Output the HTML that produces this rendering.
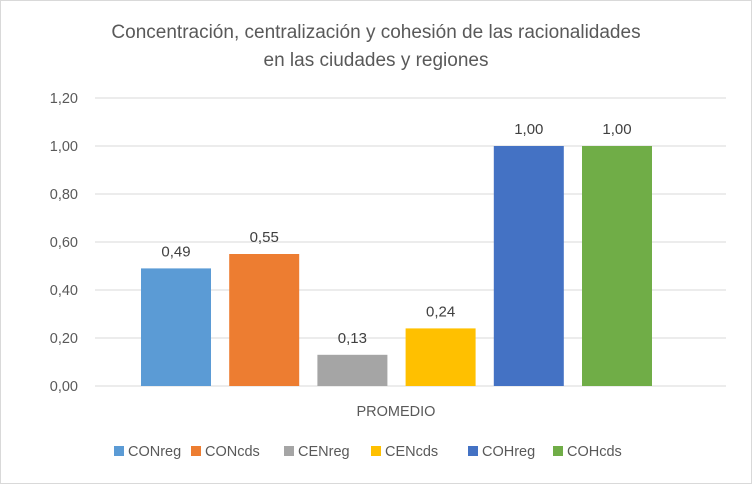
<!DOCTYPE html>
<html><head><meta charset="utf-8"><style>
body{margin:0;background:#fff;}
svg{display:block;font-family:"Liberation Sans",sans-serif;}
</style></head><body>
<svg id="chart" width="752" height="484" viewBox="0 0 752 484">
<rect x="0.5" y="0.5" width="751" height="483" fill="#fff" stroke="#d9d9d9"/>
<text x="376" y="38" text-anchor="middle" font-size="19" fill="#595959">Concentración, centralización y cohesión de las racionalidades</text>
<text x="376" y="66" text-anchor="middle" font-size="19" fill="#595959">en las ciudades y regiones</text>
<g id="grid"></g><g id="bars"></g><g id="legend"></g>
<text x="396" y="416" text-anchor="middle" font-size="14.5" fill="#595959">PROMEDIO</text>
</svg>
<script>
const series=["CONreg","CONcds","CENreg","CENcds","COHreg","COHcds"];
const values=[0.49,0.55,0.13,0.24,1.00,1.00];
const colors=["#5B9BD5","#ED7D31","#A5A5A5","#FFC000","#4472C4","#70AD47"];
const ticks=[0,0.2,0.4,0.6,0.8,1.0,1.2];
const NS="http://www.w3.org/2000/svg";
const y0=386,yTop=98,yMax=1.2;
const y=v=>y0-(v/yMax)*(y0-yTop);
const x=i=>141+i*88.2;
const bw=70;
function mk(t,a,p){const e=document.createElementNS(NS,t);for(const k in a)e.setAttribute(k,a[k]);p.appendChild(e);return e;}
const g=document.getElementById('grid');
ticks.forEach(t=>{
 const l=mk('line',{x1:95,x2:726,y1:y(t),y2:y(t),stroke:'#d9d9d9','stroke-width':1},g);
 
 
 const tx=mk('text',{x:78,y:y(t)+5,'text-anchor':'end','font-size':14.5,fill:'#595959'},g);
 tx.textContent=t.toFixed(2).replace('.',',');
 
 
});
const b=document.getElementById('bars');
values.forEach((v,i)=>{
 const r=mk('rect',{x:x(i),y:y(v),width:bw,height:y0-y(v),fill:colors[i]},b);
 
 
 const t=mk('text',{x:x(i)+bw/2,y:y(v)-12,'text-anchor':'middle','font-size':15,fill:'#404040'},b);
 t.textContent=v.toFixed(2).replace('.',',');
 
 
});
const lg=document.getElementById('legend');
const lx=[114,191,284,371,468,553];
series.forEach((s,i)=>{
 const r=mk('rect',{x:lx[i],y:446,width:10,height:10,fill:colors[i]},lg);
 
 
 const t=mk('text',{x:lx[i]+14,y:456,'font-size':14.5,fill:'#595959'},lg);
 t.textContent=s;
 
 
});
</script>
</body></html>
